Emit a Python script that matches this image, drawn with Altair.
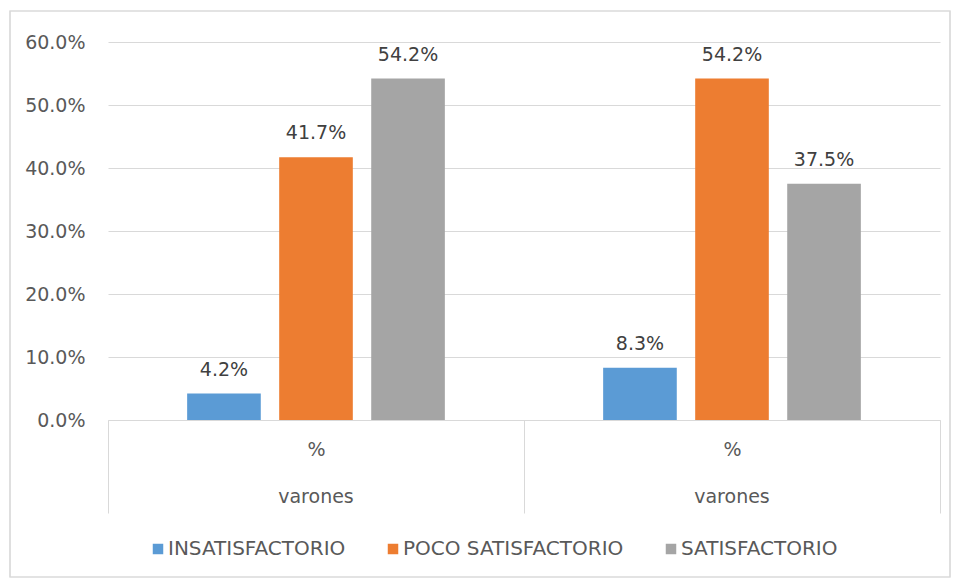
import altair as alt
import pandas as pd

groups = ["g1", "g2"]
group_label = "%"
group_outer = "varones"
series = ["INSATISFACTORIO", "POCO SATISFACTORIO", "SATISFACTORIO"]
values_g1 = [4.2, 41.7, 54.2]
values_g2 = [8.3, 54.2, 37.5]
colors = ["#5B9BD5", "#ED7D31", "#A5A5A5"]

rows = []
for g, vals in zip(groups, [values_g1, values_g2]):
    for s, v in zip(series, vals):
        rows.append({"grupo": g, "serie": s, "valor": v / 100.0})
df = pd.DataFrame(rows)
outer_df = pd.DataFrame({"grupo": groups, "texto": [group_outer] * len(groups)})

FONT = "DejaVu Sans"
FS = 19
GRID = "#d9d9d9"
TXT = "#595959"

x_enc = alt.X(
    "grupo:N",
    sort=groups,
    scale=alt.Scale(paddingInner=0, paddingOuter=0),
    axis=alt.Axis(
        title=None,
        labelExpr="indexof(['g1','g2'], datum.value) >= 0 ? '" + group_label + "' : ''",
        labelAngle=0,
        tickBand="extent",
        tickSize=93,
        tickColor=GRID,
        domainColor=GRID,
        labelPadding=-73,
        labelFontSize=FS,
        labelColor=TXT,
        labelFont=FONT,
        grid=False,
    ),
)
xoff = alt.XOffset(
    "serie:N",
    sort=series,
    scale=alt.Scale(paddingInner=0.2, paddingOuter=0.86),
)
y_enc = alt.Y(
    "valor:Q",
    scale=alt.Scale(domain=[0, 0.6], nice=False),
    axis=alt.Axis(
        title=None,
        format=".1%",
        values=[0, 0.1, 0.2, 0.3, 0.4, 0.5, 0.6],
        domain=False,
        ticks=False,
        labelPadding=23,
        labelFontSize=FS,
        labelColor=TXT,
        labelFont=FONT,
        gridColor=GRID,
        gridWidth=1.2,
    ),
)

bars = alt.Chart(df).mark_bar().encode(
    x=x_enc,
    xOffset=xoff,
    y=y_enc,
    color=alt.Color(
        "serie:N",
        scale=alt.Scale(domain=series, range=colors),
        legend=alt.Legend(
            title=None,
            orient="none",
            direction="horizontal",
            legendX=40,
            legendY=497,
            symbolType="square",
            symbolSize=110,
            symbolStrokeWidth=0,
            labelFontSize=20,
            labelFont=FONT,
            labelColor=TXT,
            columnPadding=37,
            labelOffset=0,
            labelLimit=400,
        ),
    ),
)

labels = alt.Chart(df).mark_text(
    baseline="middle", dy=-24, fontSize=FS, font=FONT, color="#404040"
).encode(
    x=alt.X("grupo:N", sort=groups),
    xOffset=xoff,
    y=alt.Y("valor:Q"),
    text=alt.Text("valor:Q", format=".1%"),
)

outer = alt.Chart(outer_df).mark_text(
    baseline="middle", fontSize=FS, font=FONT, color=TXT
).encode(
    x=alt.X("grupo:N", sort=groups),
    y=alt.value(455),
    text="texto:N",
)

frame = alt.Chart(outer_df).mark_rect(
    fill=None, stroke=GRID, strokeWidth=1.2
).encode(
    x=alt.value(-98), x2=alt.value(842), y=alt.value(-31), y2=alt.value(535)
)

chart = (
    alt.layer(frame, bars, labels, outer)
    .properties(
        width=832,
        height=378,
        autosize=alt.AutoSizeParams(type="none"),
        padding={"left": 108, "top": 42, "right": 15, "bottom": 161},
        background="white",
    )
    .configure_view(stroke=None)
)

chart.save("out.html", embed_options={"renderer": "svg", "actions": False})
